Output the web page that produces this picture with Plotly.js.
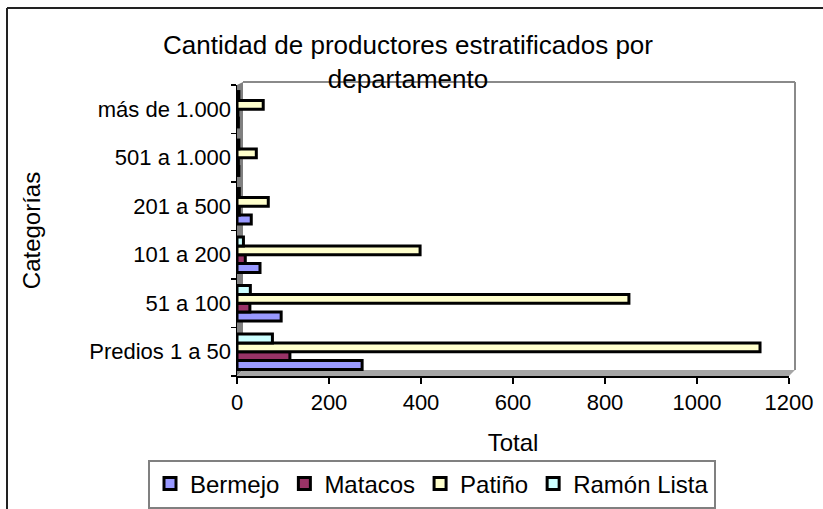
<!DOCTYPE html>
<html>
<head>
<meta charset="utf-8">
<script src="https://cdn.plot.ly/plotly-3.0.1.min.js"></script>
<style>html,body{margin:0;padding:0;background:#fff;}#chart{width:823px;height:509px;}</style>
</head>
<body>
<div id="chart"></div>
<script>
// ---- data ----
const categories = ["Predios 1 a 50", "51 a 100", "101 a 200", "201 a 500", "501 a 1.000", "más de 1.000"];
const seriesNames = ["Bermejo", "Matacos", "Patiño", "Ramón Lista"];
const bermejo = [272, 96, 50, 31, 4, 3];
const matacos = [115, 28, 18, 5, 3, 2];
const patino = [1137, 852, 398, 68, 42, 57];
const ramonLista = [77, 29, 14, 5, 4, 4];
const xTickValues = [0, 200, 400, 600, 800, 1000, 1200];

const colors = ["#9999FF", "#993366", "#FFFFCC", "#CCFFFF"];
const FONT = "Liberation Sans, Arial, sans-serif";

// ---- geometry (pixels) ----
const W = 823, H = 509;
const plotL = 237, plotR = 795, plotT = 82, plotB = 376;
const depth = 6;
const pw = plotR - plotL, ph = plotB - plotT;
const px = x => (x - plotL) / pw;
const py = y => (plotB - y) / ph;

const values = [bermejo, matacos, patino, ramonLista];
const traces = values.map((v, i) => ({
  type: "bar",
  orientation: "h",
  name: seriesNames[i],
  y: categories,
  x: v,
  xaxis: "x2",
  yaxis: "y2",
  marker: { color: colors[i], line: { color: "#000", width: 3 } },
  hoverinfo: "skip"
}));

const shapes = [
  // left wall
  { type: "path", xref: "paper", yref: "paper", layer: "below",
    path: `M ${px(plotL)},${py(plotB)} L ${px(plotL)},${py(plotT + 3)} L ${px(plotL + depth)},${py(plotT)} L ${px(plotL + depth)},${py(plotB - depth)} Z`,
    fillcolor: "#808080", line: { width: 0 } },
  // floor
  { type: "path", xref: "paper", yref: "paper", layer: "below",
    path: `M ${px(plotL)},${py(plotB)} L ${px(plotR - depth)},${py(plotB)} L ${px(plotR)},${py(plotB - depth)} L ${px(plotL + depth)},${py(plotB - depth)} Z`,
    fillcolor: "#a6a6a6", line: { width: 0 } },
  // back wall top & right edges
  { type: "line", xref: "paper", yref: "paper", x0: px(plotL + depth), x1: px(plotR), y0: py(plotT), y1: py(plotT),
    line: { color: "#8a8a8a", width: 2 } },
  { type: "line", xref: "paper", yref: "paper", x0: px(plotR), x1: px(plotR), y0: py(plotT), y1: py(plotB - depth),
    line: { color: "#8a8a8a", width: 2 } },
  // outer chart border (left & top)
  { type: "line", xref: "paper", yref: "paper", x0: px(7), x1: px(7), y0: py(8), y1: py(H + 5),
    line: { color: "#222", width: 2 } },
  { type: "line", xref: "paper", yref: "paper", x0: px(7), x1: px(W + 5), y0: py(8), y1: py(8),
    line: { color: "#222", width: 2 } }
];

const layout = {
  width: W, height: H,
  margin: { l: plotL, r: W - plotR, t: plotT, b: H - plotB, pad: 0, autoexpand: false },
  paper_bgcolor: "#fff",
  plot_bgcolor: "rgba(0,0,0,0)",
  font: { family: FONT, color: "#000", size: 22 },
  showlegend: true,
  barmode: "group",
  bargap: 0.27,
  bargroupgap: 0,
  title: {
    text: "Cantidad de productores estratificados por<br>departamento",
    font: { family: FONT, size: 26, color: "#000" },
    xref: "container", x: 408 / W, xanchor: "center",
    yref: "container", y: 1 - 54 / H, yanchor: "top"
  },
  // back wall grid
  xaxis: {
    domain: [px(plotL + depth), 1], anchor: "y",
    range: [0, 1200], tickmode: "array", tickvals: xTickValues.slice(1, -1),
    showgrid: true, gridcolor: "#333", gridwidth: 1,
    showticklabels: false, ticks: "", zeroline: false, showline: false, fixedrange: true
  },
  yaxis: {
    domain: [py(plotB - depth), 1], anchor: "x",
    range: [0, 1], showgrid: false, showticklabels: false, ticks: "",
    zeroline: false, showline: false, fixedrange: true
  },
  // front axes
  xaxis2: {
    domain: [0, px(plotR - depth)], anchor: "y2",
    range: [0, 1200], tickmode: "array", tickvals: xTickValues,
    showgrid: false, zeroline: false,
    showline: true, linecolor: "#000", linewidth: 1.5,
    ticks: "outside", ticklen: 6, tickcolor: "#000", tickwidth: 1.5,
    tickfont: { family: FONT, size: 22, color: "#000" },
    title: { text: "Total", font: { family: FONT, size: 24, color: "#000" }, standoff: 20 },
    fixedrange: true
  },
  yaxis2: {
    domain: [0, py(plotT + 3)], anchor: "x2",
    type: "category", categoryorder: "array", categoryarray: categories,
    showgrid: false, zeroline: false,
    showline: true, linecolor: "#000", linewidth: 1.5,
    ticks: "outside", ticklen: 5, tickcolor: "#000", tickwidth: 1.5, tickson: "boundaries",
    tickfont: { family: FONT, size: 22, color: "#000" },
    title: { text: "Categorías", font: { family: FONT, size: 24, color: "#000" }, standoff: 42 },
    fixedrange: true
  },
  legend: {
    orientation: "h",
    xref: "paper", yref: "paper",
    x: px(148), xanchor: "left",
    y: py(484), yanchor: "middle",
    bgcolor: "#fff", bordercolor: "#808080", borderwidth: 2,
    font: { family: FONT, size: 24, color: "#000" },
    traceorder: "normal"
  },
  shapes: shapes
};

Plotly.newPlot("chart", traces, layout, { displayModeBar: false, staticPlot: true });
</script>
</body>
</html>
